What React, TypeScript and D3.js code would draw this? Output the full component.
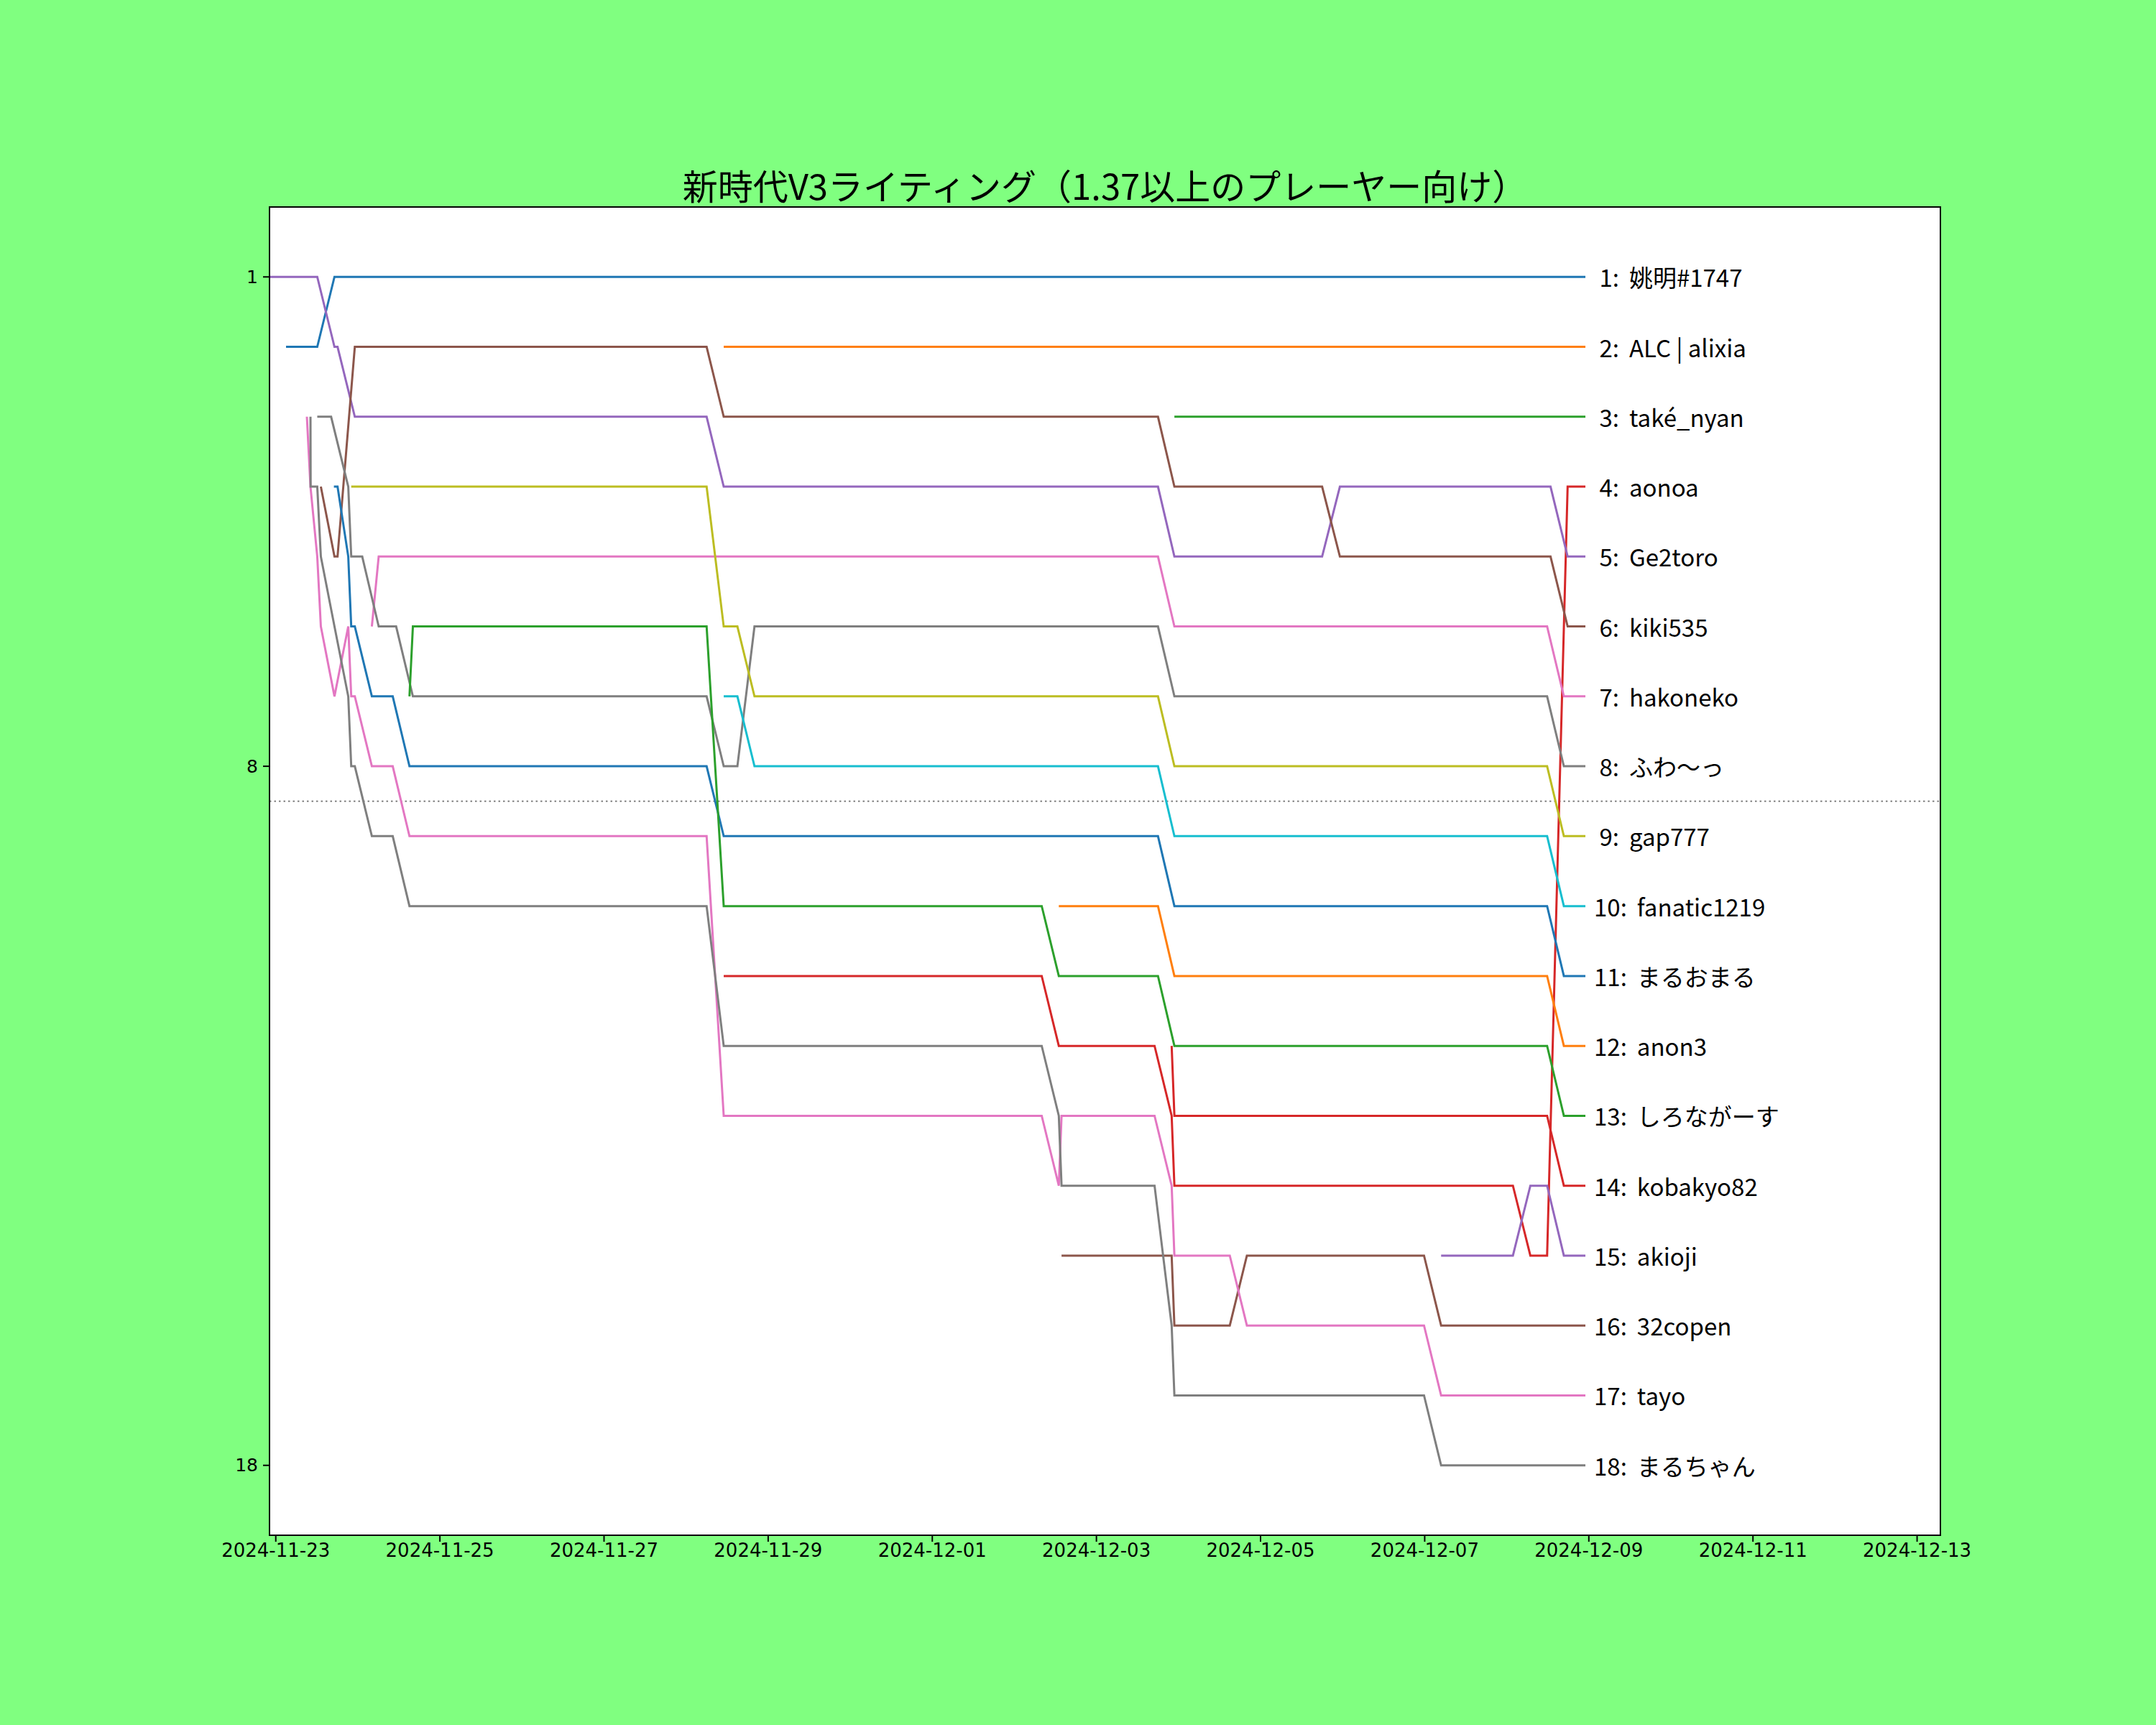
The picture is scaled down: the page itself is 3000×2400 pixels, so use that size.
import React from 'react';
import * as d3 from 'd3';

// figure size and axes box (pixels)
const W = 3000;
const H = 2400;
const margin = {top: 288, right: 300, bottom: 264, left: 375};

const title = '新時代V3ライティング（1.37以上のプレーヤー向け）';
const xStart = '2024-11-22 22:10';
const xEnd = '2024-12-13 06:49';
const xTicks = [
  '2024-11-23', '2024-11-25', '2024-11-27', '2024-11-29', '2024-12-01', '2024-12-03',
  '2024-12-05', '2024-12-07', '2024-12-09', '2024-12-11', '2024-12-13',
];
const yTicks = [1, 8, 18];
const cutoff = 8.5;

const names = [
  '姚明#1747', 'ALC | alixia', 'také_nyan', 'aonoa', 'Ge2toro', 'kiki535',
  'hakoneko', 'ふわ〜っ', 'gap777', 'fanatic1219', 'まるおまる', 'anon3',
  'しろながーす', 'kobakyo82', 'akioji', '32copen', 'tayo', 'まるちゃん',
];

type Pt = [string, number];

const yaoming: Pt[] = [
  ['2024-11-23 03:00', 2], ['2024-11-23 12:08', 2], ['2024-11-23 17:10', 1], ['2024-12-08 23:00', 1],
];
const alc: Pt[] = [['2024-11-28 11:00', 2], ['2024-12-08 23:00', 2]];
const take: Pt[] = [['2024-12-03 22:48', 3], ['2024-12-08 23:00', 3]];
const aonoa: Pt[] = [
  ['2024-11-28 11:00', 11], ['2024-12-02 08:00', 11], ['2024-12-02 13:00', 12], ['2024-12-03 17:00', 12],
  ['2024-12-03 22:00', 13], ['2024-12-03 22:48', 14], ['2024-12-08 01:48', 14], ['2024-12-08 06:54', 15],
  ['2024-12-08 11:48', 15], ['2024-12-08 17:48', 4], ['2024-12-08 23:00', 4],
];
const ge2toro: Pt[] = [
  ['2024-11-22 22:10', 1], ['2024-11-23 12:08', 1], ['2024-11-23 17:10', 2], ['2024-11-23 18:04', 2],
  ['2024-11-23 23:07', 3], ['2024-11-28 06:00', 3], ['2024-11-28 11:00', 4], ['2024-12-03 18:00', 4],
  ['2024-12-03 22:48', 5], ['2024-12-05 18:00', 5], ['2024-12-05 23:12', 4], ['2024-12-08 12:48', 4],
  ['2024-12-08 17:48', 5], ['2024-12-08 23:00', 5],
];
const kiki: Pt[] = [
  ['2024-11-23 13:11', 4], ['2024-11-23 17:10', 5], ['2024-11-23 18:04', 5], ['2024-11-23 23:07', 2],
  ['2024-11-28 06:00', 2], ['2024-11-28 11:00', 3], ['2024-12-03 18:00', 3], ['2024-12-03 22:48', 4],
  ['2024-12-05 18:00', 4], ['2024-12-05 23:12', 5], ['2024-12-08 12:48', 5], ['2024-12-08 17:48', 6],
  ['2024-12-08 23:00', 6],
];
const hakoneko: Pt[] = [
  ['2024-11-24 04:06', 6], ['2024-11-24 06:06', 5], ['2024-12-03 18:00', 5], ['2024-12-03 22:48', 6],
  ['2024-12-08 11:48', 6], ['2024-12-08 16:42', 7], ['2024-12-08 23:00', 7],
];
const fuwa: Pt[] = [
  ['2024-11-23 12:08', 3], ['2024-11-23 16:11', 3], ['2024-11-23 21:12', 4], ['2024-11-23 22:04', 5],
  ['2024-11-24 01:17', 5], ['2024-11-24 06:06', 6], ['2024-11-24 11:12', 6], ['2024-11-24 16:06', 7],
  ['2024-11-28 06:00', 7], ['2024-11-28 11:00', 8], ['2024-11-28 15:00', 8], ['2024-11-28 20:00', 6],
  ['2024-12-03 18:00', 6], ['2024-12-03 22:48', 7], ['2024-12-08 11:48', 7], ['2024-12-08 16:42', 8],
  ['2024-12-08 23:00', 8],
];
const gap777: Pt[] = [
  ['2024-11-23 22:04', 4], ['2024-11-28 06:00', 4], ['2024-11-28 11:00', 6], ['2024-11-28 15:00', 6],
  ['2024-11-28 20:00', 7], ['2024-12-03 18:00', 7], ['2024-12-03 22:48', 8], ['2024-12-08 11:48', 8],
  ['2024-12-08 16:42', 9], ['2024-12-08 23:00', 9],
];
const fanatic: Pt[] = [
  ['2024-11-28 11:00', 7], ['2024-11-28 15:00', 7], ['2024-11-28 20:00', 8], ['2024-12-03 18:00', 8],
  ['2024-12-03 22:48', 9], ['2024-12-08 11:48', 9], ['2024-12-08 16:42', 10], ['2024-12-08 23:00', 10],
];
const maruomaru: Pt[] = [
  ['2024-11-23 17:00', 4], ['2024-11-23 18:04', 4], ['2024-11-23 21:12', 5], ['2024-11-23 22:04', 6],
  ['2024-11-23 23:07', 6], ['2024-11-24 04:06', 7], ['2024-11-24 10:12', 7], ['2024-11-24 15:06', 8],
  ['2024-11-28 06:00', 8], ['2024-11-28 11:00', 9], ['2024-12-03 18:00', 9], ['2024-12-03 22:48', 10],
  ['2024-12-08 11:48', 10], ['2024-12-08 16:42', 11], ['2024-12-08 23:00', 11],
];
const anon3: Pt[] = [
  ['2024-12-02 13:00', 10], ['2024-12-03 18:00', 10], ['2024-12-03 22:48', 11], ['2024-12-08 11:48', 11],
  ['2024-12-08 16:42', 12], ['2024-12-08 23:00', 12],
];
const shironagasu: Pt[] = [
  ['2024-11-24 15:06', 7], ['2024-11-24 16:06', 6], ['2024-11-28 06:00', 6], ['2024-11-28 11:00', 10],
  ['2024-12-02 08:00', 10], ['2024-12-02 13:00', 11], ['2024-12-03 18:00', 11], ['2024-12-03 22:48', 12],
  ['2024-12-08 11:48', 12], ['2024-12-08 16:42', 13], ['2024-12-08 23:00', 13],
];
const kobakyo: Pt[] = [
  ['2024-12-03 22:00', 12], ['2024-12-03 22:48', 13], ['2024-12-08 11:48', 13], ['2024-12-08 16:42', 14],
  ['2024-12-08 23:00', 14],
];
const akioji: Pt[] = [
  ['2024-12-07 04:48', 15], ['2024-12-08 01:48', 15], ['2024-12-08 06:54', 14], ['2024-12-08 11:48', 14],
  ['2024-12-08 16:42', 15], ['2024-12-08 23:00', 15],
];
const copen: Pt[] = [
  ['2024-12-02 13:48', 15], ['2024-12-03 22:00', 15], ['2024-12-03 22:48', 16], ['2024-12-04 15:00', 16],
  ['2024-12-04 20:00', 15], ['2024-12-06 23:48', 15], ['2024-12-07 04:48', 16], ['2024-12-08 23:00', 16],
];
const tayo: Pt[] = [
  ['2024-11-23 09:06', 3], ['2024-11-23 10:09', 4], ['2024-11-23 12:08', 5], ['2024-11-23 13:11', 6],
  ['2024-11-23 17:10', 7], ['2024-11-23 21:12', 6], ['2024-11-23 22:04', 7], ['2024-11-23 23:07', 7],
  ['2024-11-24 04:06', 8], ['2024-11-24 10:12', 8], ['2024-11-24 15:06', 9], ['2024-11-28 06:00', 9],
  ['2024-11-28 11:00', 13], ['2024-12-02 08:00', 13], ['2024-12-02 13:00', 14], ['2024-12-02 13:48', 13],
  ['2024-12-03 17:00', 13], ['2024-12-03 22:00', 14], ['2024-12-03 22:48', 15], ['2024-12-04 15:00', 15],
  ['2024-12-04 20:00', 16], ['2024-12-06 23:48', 16], ['2024-12-07 04:48', 17], ['2024-12-08 23:00', 17],
];
const maruchan: Pt[] = [
  ['2024-11-23 10:09', 3], ['2024-11-23 10:12', 4], ['2024-11-23 12:08', 4], ['2024-11-23 13:11', 5],
  ['2024-11-23 17:10', 6], ['2024-11-23 21:12', 7], ['2024-11-23 22:04', 8], ['2024-11-23 23:07', 8],
  ['2024-11-24 04:06', 9], ['2024-11-24 10:12', 9], ['2024-11-24 15:06', 10], ['2024-11-28 06:00', 10],
  ['2024-11-28 11:00', 12], ['2024-12-02 08:00', 12], ['2024-12-02 13:00', 13], ['2024-12-02 13:48', 14],
  ['2024-12-03 17:00', 14], ['2024-12-03 22:00', 16], ['2024-12-03 22:48', 17], ['2024-12-06 23:48', 17],
  ['2024-12-07 04:48', 18], ['2024-12-08 23:00', 18],
];

const series = [
  yaoming, alc, take, aonoa, ge2toro, kiki, hakoneko, fuwa, gap777,
  fanatic, maruomaru, anon3, shironagasu, kobakyo, akioji, copen, tayo, maruchan,
];

const parse = d3.timeParse('%Y-%m-%d %H:%M');
const parseDay = d3.timeParse('%Y-%m-%d');
const jpFont = '"Noto Sans CJK JP", "Noto Sans", sans-serif';
const tickFont = '"DejaVu Sans", sans-serif';

export default function App() {
  const x = d3
    .scaleTime()
    .domain([parse(xStart)!, parse(xEnd)!])
    .range([margin.left, W - margin.right]);
  const y = d3
    .scaleLinear()
    .domain([0, 19])
    .range([margin.top, H - margin.bottom]);
  const line = d3
    .line<Pt>()
    .x(d => x(parse(d[0])!))
    .y(d => y(d[1]));
  const color = (i: number) => d3.schemeCategory10[i % 10];

  const x0 = margin.left;
  const x1 = W - margin.right;
  const y0 = margin.top;
  const y1 = H - margin.bottom;

  return (
    <svg
      width={W}
      height={H}
      style={{position: 'absolute', left: 0, top: 0, display: 'block'}}
    >
      <rect width={W} height={H} fill="#80ff80" />
      <rect x={x0} y={y0} width={x1 - x0} height={y1 - y0} fill="#ffffff" />

      {/* cutoff line */}
      <line
        x1={x0}
        x2={x1}
        y1={y(cutoff)}
        y2={y(cutoff)}
        stroke="#808080"
        strokeWidth={2}
        strokeDasharray="2.5,4"
      />

      {/* rank lines */}
      {series.map((s, i) => (
        <path
          key={names[i]}
          d={line(s) ?? ''}
          fill="none"
          stroke={color(i)}
          strokeWidth={3}
          strokeLinejoin="miter"
        />
      ))}

      {/* labels at end of each line */}
      {series.map((s, i) => {
        const last = s[s.length - 1];
        return (
          <text
            key={'l' + i}
            x={x(parse(last[0])!) + 12}
            y={y(last[1])}
            dominantBaseline="central"
            fontFamily={jpFont}
            fontSize={33}
            fill="#000"
            style={{whiteSpace: 'pre'}}
          >
            <tspan>{`${String(i + 1).padStart(2)}:`}</tspan>
            <tspan dx={14}>{names[i]}</tspan>
          </text>
        );
      })}

      {/* frame */}
      <rect
        x={x0}
        y={y0}
        width={x1 - x0}
        height={y1 - y0}
        fill="none"
        stroke="#000"
        strokeWidth={2}
      />

      {/* x axis */}
      {xTicks.map(t => {
        const px = x(parseDay(t)!);
        return (
          <g key={t}>
            <line x1={px} x2={px} y1={y1} y2={y1 + 9} stroke="#000" strokeWidth={2} />
            <text
              x={px}
              y={y1 + 30}
              textAnchor="middle"
              fontFamily={tickFont}
              fontSize={26}
              fill="#000"
            >
              {t}
            </text>
          </g>
        );
      })}

      {/* y axis */}
      {yTicks.map(t => (
        <g key={t}>
          <line x1={x0 - 9} x2={x0} y1={y(t)} y2={y(t)} stroke="#000" strokeWidth={2} />
          <text
            x={x0 - 16}
            y={y(t)}
            textAnchor="end"
            dominantBaseline="central"
            fontFamily={tickFont}
            fontSize={25}
            fill="#000"
          >
            {t}
          </text>
        </g>
      ))}

      <text
        x={(x0 + x1) / 2}
        y={y0 - 10}
        textAnchor="middle"
        fontFamily={jpFont}
        fontSize={49}
        fill="#000"
      >
        {title}
      </text>
    </svg>
  );
}
